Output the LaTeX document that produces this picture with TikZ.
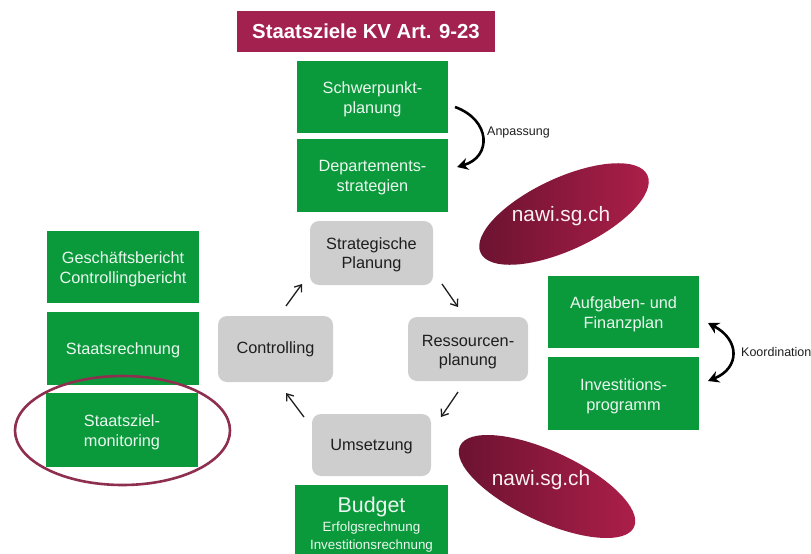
\documentclass[tikz,border=0pt]{standalone}
\usepackage{fontspec}
\setmainfont{Liberation Sans}
\usetikzlibrary{shapes.geometric,arrows.meta,calc}
\definecolor{gruen}{HTML}{0A9A3C}
\definecolor{grau}{HTML}{CFCECE}
\definecolor{wein}{HTML}{A3214F}
\definecolor{ring}{HTML}{8F2F50}
\definecolor{dunkel}{HTML}{6A1230}
\definecolor{hell}{HTML}{AE1F4A}
\definecolor{txt}{HTML}{1E1E1E}
\tikzset{
  x=1pt,y=-1pt,
  gbox/.style={fill=gruen,text=white!92!gruen,inner sep=0pt,font=\fontsize{16.3}{20}\selectfont},
  gybox/.style={fill=grau,rounded corners=9pt,text=txt,inner sep=0pt,font=\fontsize{16.3}{18.5}\selectfont},
  titlebox/.style={fill=wein,text=white,inner sep=0pt,font=\fontsize{20.3}{24}\selectfont\bfseries},
  blob/.style={ellipse,inner sep=0pt,draw=none,minimum width=#1},
  blobtext/.style={text=white!94!hell,inner sep=0pt,font=\fontsize{20.8}{24}\selectfont},
  smallarrow/.style={draw=txt,line width=1.3pt,-{Straight Barb[length=6pt,width=9pt]}},
  bigarc/.style={draw=black,line width=2.6pt},
  bighead/.tip={Stealth[length=11pt,width=12pt]},
  note/.style={text=txt,inner sep=0pt,font=\fontsize{12.5}{14}\selectfont},
}
\newcommand{\lowered}[2]{\raisebox{-#1}[\height][\depth]{\begin{tabular}{@{}c@{}}#2\end{tabular}}}
\newcommand{\gb}[6]{\node[#1,minimum width=#4-#3,minimum height=#6-#5] (#2) at ({(#3+#4)/2},{(#5+#6)/2})}
\begin{document}
\begin{tikzpicture}
\useasboundingbox (0,0) rectangle (811,554);
\gb{titlebox}{title}{237}{495}{11}{52} {Staatsziele KV Art. 9-23};
\gb{gbox}{schwer}{297}{448}{61}{133} {\lowered{2.5pt}{Schwerpunkt-\\planung}};
\gb{gbox}{dep}{297}{448}{139}{212} {\lowered{1.5pt}{Departements-\\strategien}};
\gb{gbox}{gesch}{47}{199}{231}{303} {\lowered{2.5pt}{Geschäftsbericht\\Controllingbericht}};
\gb{gbox}{srech}{47}{199}{312}{385} {\lowered{2pt}{Staatsrechnung}};
\gb{gbox}{smon}{46}{198}{393}{467} {\lowered{2.5pt}{Staatsziel-\\monitoring}};
\gb{gbox}{afp}{548}{699}{276}{348} {\lowered{2pt}{Aufgaben- und\\Finanzplan}};
\gb{gbox}{inv}{548}{699}{357}{430} {\lowered{3pt}{Investitions-\\programm}};
\gb{gbox}{budget}{295}{448}{485}{554} {\lowered{6.5pt}{\fontsize{21.4}{24}\selectfont Budget\\[-1pt]\fontsize{13.4}{15}\selectfont Erfolgsrechnung\\[-2pt]\fontsize{13.4}{15}\selectfont Investitionsrechnung}};
\gb{gybox}{strat}{310}{433}{221}{285} {\lowered{2.5pt}{Strategische\\Planung}};
\gb{gybox}{ress}{408}{528}{317}{381} {\lowered{3.5pt}{Ressourcen-\\planung}};
\gb{gybox}{ctrl}{218}{333}{316}{382} {\lowered{1pt}{Controlling}};
\gb{gybox}{ums}{312}{431}{414}{476} {\lowered{2pt}{Umsetzung}};
% monitoring ring
\node[ellipse,draw=ring,line width=2.6pt,minimum width=215pt,minimum height=109pt,inner sep=0pt] (ringn) at (122.5,430.5) {};
% blobs
\node[blob=184pt,minimum height=72pt,rotate=25,left color=dunkel,right color=hell] (b1) at (564,214) {};
\node[blobtext] (b1t) at (561,216) {nawi.sg.ch};
\node[blob=192pt,minimum height=70pt,rotate=-25,left color=dunkel,right color=hell] (b2) at (547,486.5) {};
\node[blobtext] (b2t) at (541,480) {nawi.sg.ch};
% cycle arrows
\coordinate (a1s) at (286,306); \coordinate (a1e) at (302,284);
\coordinate (a2s) at (442,284); \coordinate (a2e) at (458,307);
\coordinate (a3s) at (458,392); \coordinate (a3e) at (441,417);
\coordinate (a4s) at (304,417); \coordinate (a4e) at (286,393);
\draw[smallarrow] (a1s) -- (a1e);
\draw[smallarrow] (a2s) -- (a2e);
\draw[smallarrow] (a3s) -- (a3e);
\draw[smallarrow] (a4s) -- (a4e);
% curved arrows
\coordinate (p1) at (455,107); \coordinate (p2) at (457,167);
\draw[bigarc,-{bighead}] (p1) .. controls (491,120) and (492,157) .. (p2);
\node[note,anchor=west] (anp) at (487,132) {Anpassung};
\coordinate (k1) at (708,323); \coordinate (k2) at (708,381);
\draw[bigarc,{bighead}-{bighead}] (k1) .. controls (740,340) and (740,368) .. (k2);
\node[note,anchor=west] (koo) at (741,352) {Koordination};
\end{tikzpicture}
\end{document}
